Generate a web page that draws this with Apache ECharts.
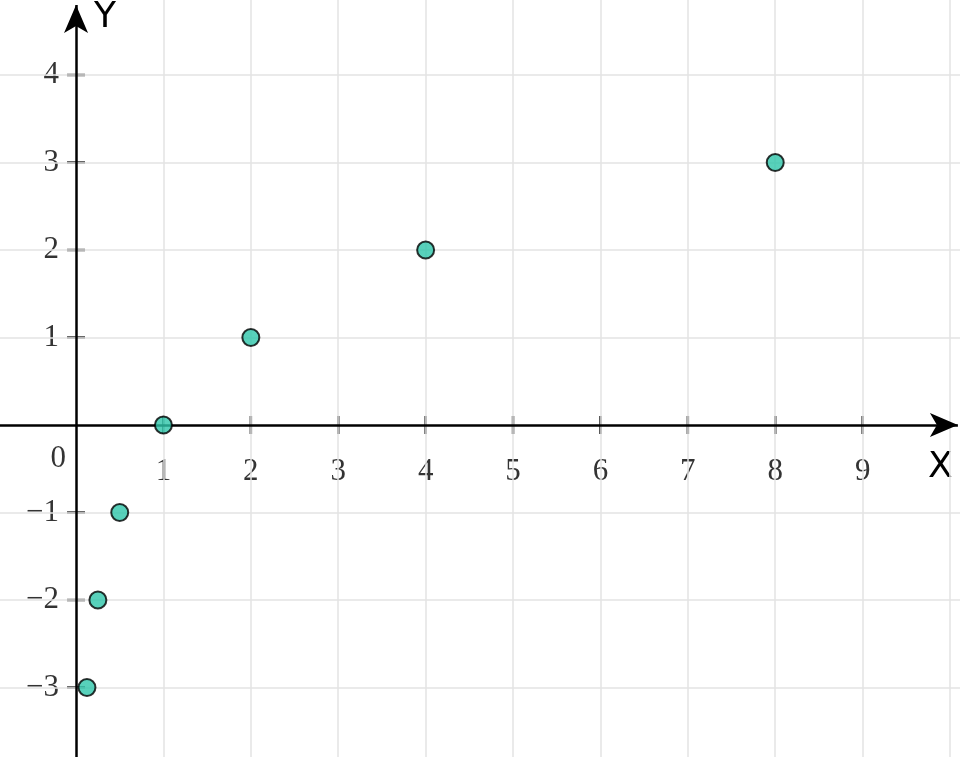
<!DOCTYPE html>
<html><head><meta charset="utf-8">
<script src="https://cdn.jsdelivr.net/npm/echarts@6/dist/echarts.min.js"></script>
<style>html,body{margin:0;padding:0;background:#fff}#c{width:960px;height:757px}</style>
</head><body><div id="c"></div>
<script>
const pointsX = [0.125, 0.25, 0.5, 1, 2, 4, 8];
const pointsY = [-3, -2, -1, 0, 1, 2, 3];
const xTicks = [1, 2, 3, 4, 5, 6, 7, 8, 9];
const yTicks = [-3, -2, -1, 1, 2, 3, 4];
const xGrid = [1, 2, 3, 4, 5, 6, 7, 8, 9, 10];
const yGrid = [-3, -2, -1, 1, 2, 3, 4];
const fmt = v => (v < 0 ? '\u2212' + Math.abs(v) : String(v));
const serif = '"Liberation Serif","DejaVu Serif",serif';
const XMIN = -0.87, XMAX = 10.114, YMIN = -3.794, YMAX = 4.857;
const chart = echarts.init(document.getElementById('c'));
const gridLines = xGrid.map(v => [{ coord: [v, YMIN] }, { coord: [v, YMAX] }])
  .concat(yGrid.map(v => [{ coord: [XMIN, v] }, { coord: [XMAX, v] }]));
chart.setOption({
  animation: false,
  grid: { left: 0, right: 0, top: 0, bottom: 0 },
  xAxis: { type: 'value', min: XMIN, max: XMAX, show: false },
  yAxis: { type: 'value', min: YMIN, max: YMAX, show: false },
  series: [
    { type: 'line', data: [], silent: true, z: 1,
      markLine: { silent: true, symbol: ['none', 'none'],
        lineStyle: { color: '#e3e3e3', width: 1.5, type: 'solid' }, label: { show: false },
        data: gridLines } },
    { type: 'line', data: [], silent: true, z: 2,
      markLine: { silent: true, symbol: ['none', 'arrow'], symbolSize: [18, 28],
        lineStyle: { color: '#000', width: 2.5, type: 'solid' }, label: { show: false },
        data: [
          [{ coord: [XMIN, 0] }, { coord: [10.09, 0] }],
          [{ coord: [0, YMIN] }, { coord: [0, 4.8] }]
        ] } },
    { type: 'scatter', symbol: 'rect', symbolSize: [2.5, 18], silent: true, z: 3,
      itemStyle: { color: '#000' },
      data: xTicks.map(v => [v, 0]),
      label: { show: true, position: 'bottom', distance: 22, color: '#000',
        fontFamily: serif, fontSize: 31, formatter: p => fmt(p.value[0]) } },
    { type: 'scatter', symbol: 'rect', symbolSize: [18, 2.5], silent: true, z: 3,
      itemStyle: { color: '#000' },
      data: yTicks.map(v => [0, v]),
      label: { show: true, position: 'left', distance: 8, color: '#000',
        fontFamily: serif, fontSize: 31, formatter: p => fmt(p.value[1]) } },
    { type: 'scatter', symbolSize: 0, silent: true, data: [[0, 0]], z: 3,
      label: { show: true, position: 'left', offset: [-4, 34], distance: 6, color: '#000',
        fontFamily: serif, fontSize: 31, formatter: '0' } },
    { type: 'scatter', symbolSize: 17, z: 10,
      itemStyle: { color: '#2ec6aa', borderColor: '#000', borderWidth: 2 },
      data: pointsX.map((x, i) => [x, pointsY[i]]) }
  ],
  graphic: [
    { type: 'text', left: 94, top: 0, style: { text: 'Y', fontSize: 36, fill: '#000', fontFamily: '"DejaVu Sans",sans-serif' } },
    { type: 'text', left: 928, top: 450, style: { text: 'X', fontSize: 36, fill: '#000', fontFamily: '"DejaVu Sans",sans-serif' } }
  ]
});
</script></body></html>
